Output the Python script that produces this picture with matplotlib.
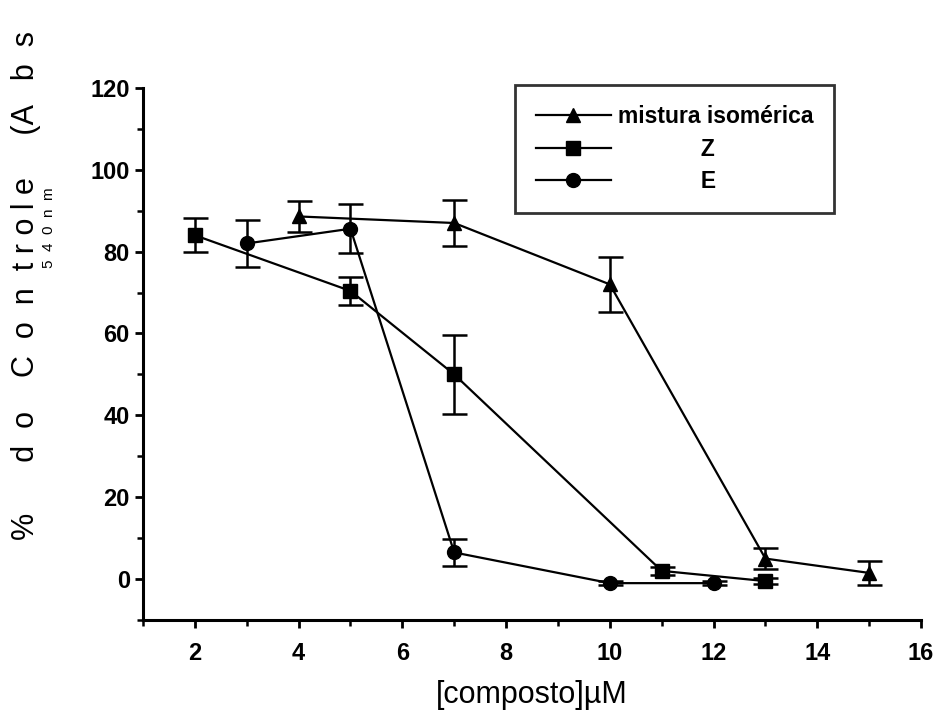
import numpy as np
import matplotlib.pyplot as plt
from matplotlib.lines import Line2D

# ==========================================================
# DATA
# ==========================================================

x_mix = [4, 7, 10, 13, 15]
y_mix = [88.6, 87.0, 72.0, 5.0, 1.5]
e_mix = [3.7, 5.5, 6.7, 2.5, 3.0]

x_z = [2, 5, 7, 11, 13]
y_z = [84.0, 70.4, 50.0, 2.0, -0.5]
e_z = [4.2, 3.4, 9.6, 1.0, 0.8]

x_e = [3, 5, 7, 10, 12]
y_e = [82.0, 85.6, 6.5, -1.0, -1.0]
e_e = [5.7, 6.0, 3.2, 0.5, 0.5]

labels = ['mistura isomérica', '             Z', '             E']

# ==========================================================
# PLOT
# ==========================================================

plt.rcParams['font.family'] = ['Liberation Sans', 'DejaVu Sans']

fig = plt.figure(figsize=(9.36, 7.15), dpi=100)
ax = fig.add_axes([0.1528, 0.1329, 0.8312, 0.7441])

style = dict(color='black', linewidth=1.6, elinewidth=1.8,
             capsize=9, capthick=1.8, markersize=10)

ax.errorbar(x_mix, y_mix, yerr=e_mix, marker='^', **style)
ax.errorbar(x_z, y_z, yerr=e_z, marker='s', **style)
ax.errorbar(x_e, y_e, yerr=e_e, marker='o', **style)

ax.set_xlim(1, 16)
ax.set_ylim(-10, 120)
ax.set_xticks(np.arange(2, 17, 2))
ax.set_xticks(np.arange(1, 17, 1), minor=True)
ax.set_yticks(np.arange(0, 121, 20))
ax.set_yticks(np.arange(-10, 121, 10), minor=True)

for side in ['top', 'right']:
    ax.spines[side].set_visible(False)
for side in ['left', 'bottom']:
    ax.spines[side].set_linewidth(2.2)

ax.tick_params(which='major', length=6, width=2, labelsize=17)
ax.tick_params(axis='x', which='major', pad=10)
ax.tick_params(which='minor', length=4, width=1.8)
for lbl in ax.get_xticklabels() + ax.get_yticklabels():
    lbl.set_fontweight('bold')

ax.set_xlabel('[composto]\u00b5M', fontsize=22, labelpad=11)

# letter-spaced y label, as in the scan
ylab = '%      d  o    C  o  n  t r o l e     (A   b  s'
fig.text(0.028, 0.245, ylab, rotation=90, fontsize=22,
         ha='center', va='bottom')
fig.text(0.052, 0.625, '5  4  0  n  m', rotation=90, fontsize=11,
         ha='center', va='bottom')

handles = [
    Line2D([], [], color='black', linewidth=1.6, marker='^', markersize=10),
    Line2D([], [], color='black', linewidth=1.6, marker='s', markersize=10),
    Line2D([], [], color='black', linewidth=1.6, marker='o', markersize=10),
]
leg = ax.legend(handles, labels, loc='upper left',
                bbox_to_anchor=(0.478, 1.006), borderaxespad=0,
                frameon=True, fancybox=False, edgecolor='black',
                fontsize=16.5, handlelength=3.3, borderpad=0.9,
                labelspacing=0.4, handletextpad=0.3)
leg.get_frame().set_linewidth(2)
for t in leg.get_texts():
    t.set_fontweight('bold')

plt.savefig('out.png', dpi=100)
